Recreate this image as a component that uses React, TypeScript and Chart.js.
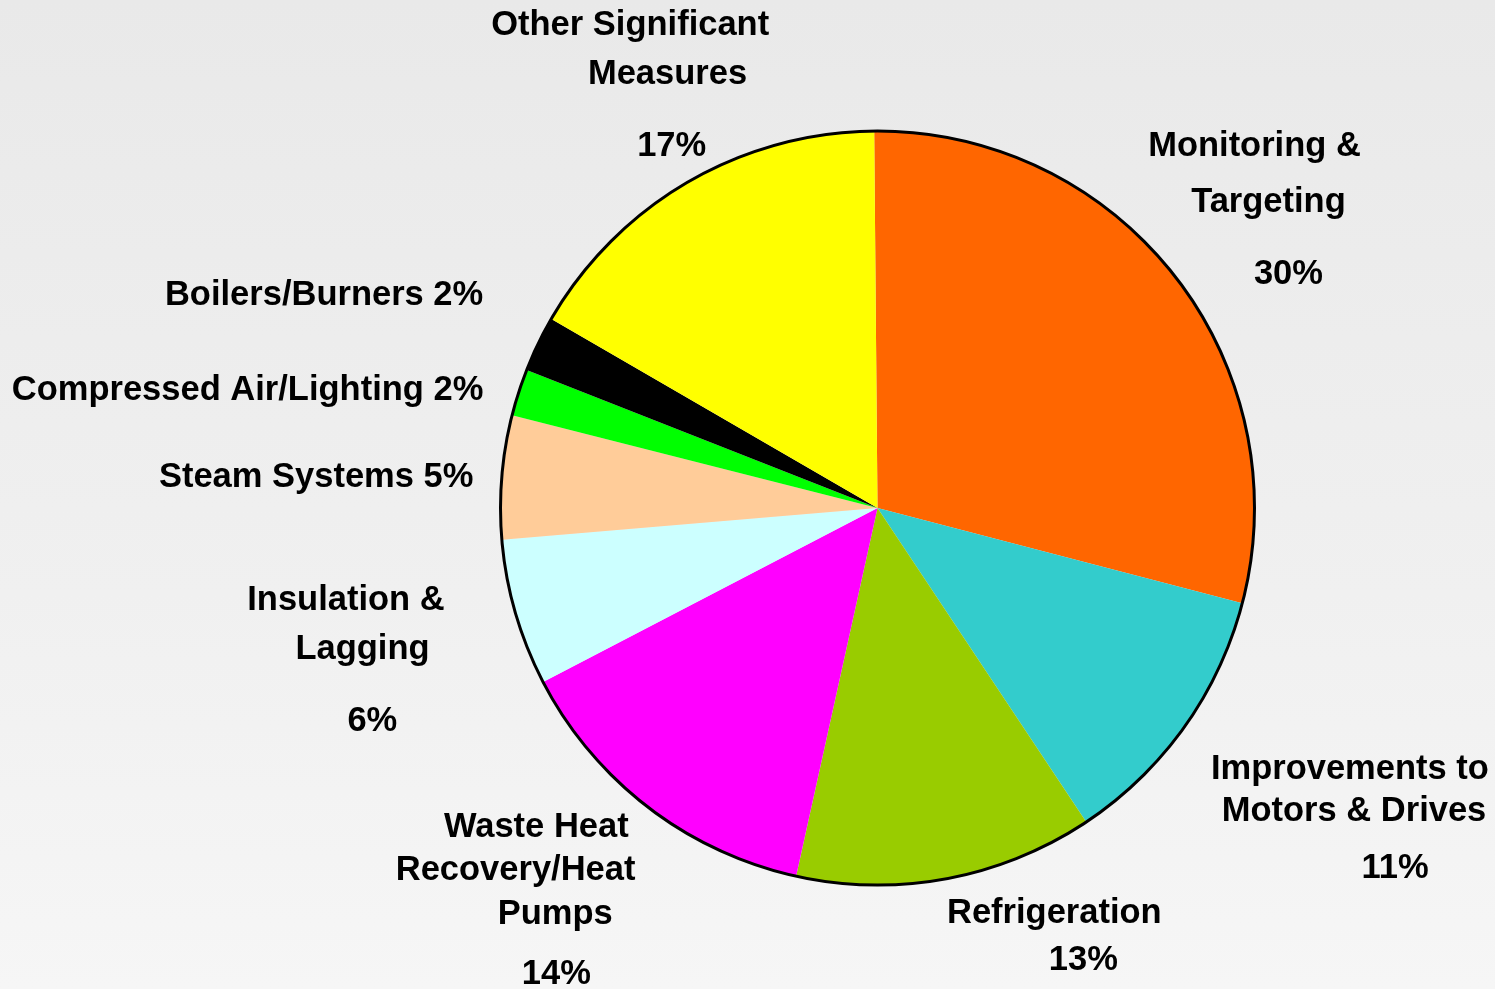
import React, { useEffect, useRef } from "react";
import { Chart, registerables } from "chart.js";

Chart.register(...registerables);

const categories = [
  "Monitoring & Targeting",
  "Improvements to Motors & Drives",
  "Refrigeration",
  "Waste Heat Recovery/Heat Pumps",
  "Insulation & Lagging",
  "Steam Systems",
  "Compressed Air/Lighting",
  "Boilers/Burners",
  "Other Significant Measures",
];

const shares = [29.2, 11.6, 12.8, 13.9, 6.3, 5.3, 2.0, 2.4, 16.5];

const sliceColors = [
  "#FF6600",
  "#33CCCC",
  "#99CC00",
  "#FF00FF",
  "#CCFFFF",
  "#FFCC99",
  "#00FF00",
  "#000000",
  "#FFFF00",
];

// label text lines for each slice
const labelLines: string[][] = [
  ["Monitoring &", "Targeting", "30%"],
  ["Improvements to", "Motors & Drives", "11%"],
  ["Refrigeration", "13%"],
  ["Waste Heat", "Recovery/Heat", "Pumps", "14%"],
  ["Insulation &", "Lagging", "6%"],
  ["Steam Systems 5%"],
  ["Compressed Air/Lighting 2%"],
  ["Boilers/Burners 2%"],
  ["Other Significant", "Measures", "17%"],
];

// label line placement, relative to pie centre in units of the radius: [dx, dy]
const labelOffsets: number[][][] = [
  [[1.0, -0.963], [1.037, -0.817], [1.09, -0.626]],
  [[1.253, 0.688], [1.264, 0.8], [1.373, 0.951]],
  [[0.469, 1.069], [0.546, 1.194]],
  [[-0.905, 0.843], [-0.96, 0.955], [-0.855, 1.074], [-0.852, 1.231]],
  [[-1.41, 0.241], [-1.366, 0.371], [-1.34, 0.562]],
  [[-1.489, -0.085]],
  [[-1.671, -0.316]],
  [[-1.468, -0.57]],
  [[-0.656, -1.284], [-0.557, -1.156], [-0.546, -0.963]],
];

const labelPlugin = {
  id: "sliceLabels",
  afterDatasetsDraw(chart: any) {
    const meta = chart.getDatasetMeta(0);
    const arc = meta.data[0];
    if (!arc) return;
    const { x, y, outerRadius } = arc.getProps(["x", "y", "outerRadius"], true);
    const ctx = chart.ctx;
    ctx.save();
    // outer outline
    ctx.beginPath();
    ctx.arc(x, y, outerRadius, 0, Math.PI * 2);
    ctx.lineWidth = 3;
    ctx.strokeStyle = "#000000";
    ctx.stroke();
    // labels
    ctx.fillStyle = "#000000";
    ctx.font = "bold 34.5px 'Liberation Sans', Arial, sans-serif";
    ctx.textAlign = "center";
    ctx.textBaseline = "middle";
    labelLines.forEach((lines, i) => {
      lines.forEach((line, j) => {
        const off = labelOffsets[i][j];
        ctx.fillText(line, x + off[0] * outerRadius, y + off[1] * outerRadius + 2);
      });
    });
    ctx.restore();
  },
};

export default function App() {
  const ref = useRef<HTMLCanvasElement | null>(null);

  useEffect(() => {
    if (!ref.current) return;
    const chart = new Chart(ref.current, {
      type: "pie",
      data: {
        labels: categories,
        datasets: [
          {
            data: shares,
            backgroundColor: sliceColors,
            borderWidth: 0,
          },
        ],
      },
      options: {
        responsive: false,
        animation: false,
        rotation: -0.5,
        layout: {
          padding: { left: 500.5, right: 240.5, top: 131, bottom: 104 },
        },
        plugins: {
          legend: { display: false },
          tooltip: { enabled: false },
        },
      },
      plugins: [labelPlugin],
    });
    return () => chart.destroy();
  }, []);

  return (
    <div
      style={{
        position: "fixed",
        left: 0,
        top: 0,
        width: 1495,
        height: 989,
        background: "linear-gradient(to bottom, #e9e9e9 0%, #f0f0f0 60%, #f6f6f6 100%)",
      }}
    >
      <canvas ref={ref} width={1495} height={989} style={{ display: "block" }} />
    </div>
  );
}
